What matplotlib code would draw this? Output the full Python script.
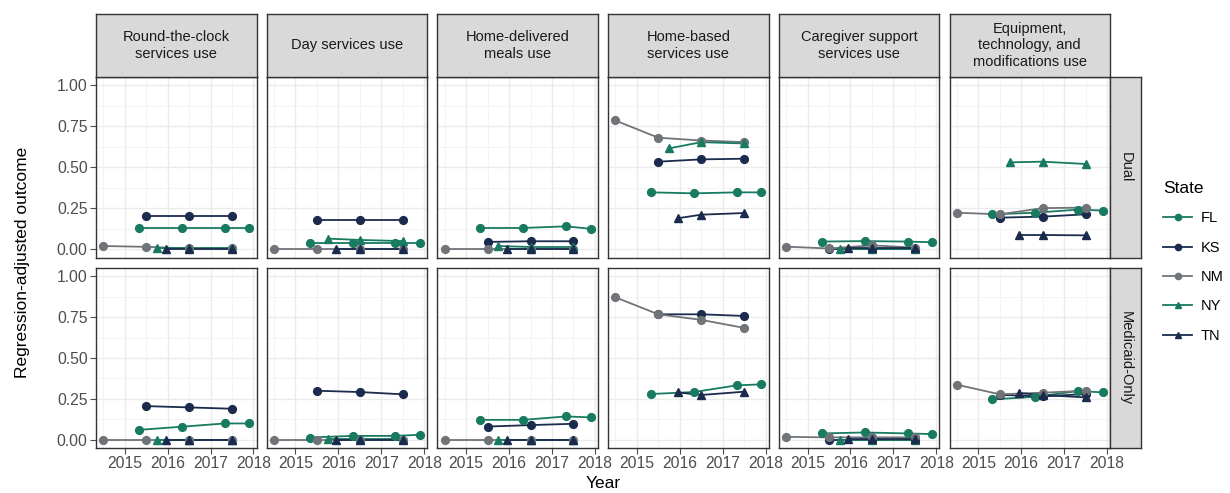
import matplotlib
matplotlib.use("Agg")
import matplotlib.pyplot as plt
import matplotlib.font_manager as fm
from matplotlib.lines import Line2D
from matplotlib.ticker import MultipleLocator

# panel titles (columns) and enrollment groups (rows)
services = [
    "Round-the-clock\nservices use",
    "Day services use",
    "Home-delivered\nmeals use",
    "Home-based\nservices use",
    "Caregiver support\nservices use",
    "Equipment,\ntechnology, and\nmodifications use",
]
groups = ["Dual", "Medicaid-Only"]
states = ["FL", "KS", "NM", "NY", "TN"]

# measurement years for each state
years_FL = [2015.33, 2016.33, 2017.33, 2017.9]
years_KS = [2015.5, 2016.5, 2017.5]
years_NM = [2014.5, 2015.5, 2016.5, 2017.5]
years_NY = [2015.75, 2016.5, 2017.5]
years_TN = [2015.95, 2016.5, 2017.5]

# regression-adjusted outcomes, one list per service (None = not shown)
fl_dual = [[0.13, 0.13, 0.13, 0.13], [0.04, 0.04, 0.04, 0.04],
           [0.13, 0.13, 0.14, 0.125], [0.347, 0.341, 0.347, 0.347],
           [0.047, 0.05, 0.047, 0.043], [0.213, 0.223, 0.242, 0.236]]
ks_dual = [[0.20, 0.20, 0.20], [0.18, 0.18, 0.18], [0.045, 0.049, 0.049],
           [0.534, 0.548, 0.552], [0.0, 0.0, 0.0], [0.193, 0.199, 0.213]]
nm_dual = [[0.02, 0.015, 0.005, 0.005], [0.0, 0.0, 0.0, 0.0],
           [0.0, 0.0, 0.0, 0.0], [0.785, 0.68, 0.663, 0.653],
           [0.016, 0.005, 0.024, 0.01], [0.223, 0.213, 0.251, 0.254]]
ny_dual = [[0.005, 0.005, 0.005], [0.065, 0.057, 0.05], [0.02, 0.014, 0.014],
           [0.615, 0.653, 0.645], [0.0, 0.0, 0.0], [0.53, 0.534, 0.52]]
tn_dual = [[0.0, 0.0, 0.0], [0.0, 0.0, 0.0], [0.0, 0.0, 0.0],
           [0.189, 0.211, 0.221], [0.005, 0.005, 0.005], [0.087, 0.087, 0.085]]

fl_mcd = [[0.061, 0.08, 0.1, 0.1], [0.014, 0.024, 0.024, 0.031],
          [0.122, 0.122, 0.143, 0.137], [0.28, 0.292, 0.333, 0.339],
          [0.039, 0.045, 0.039, 0.035], [0.247, 0.263, 0.298, 0.29]]
ks_mcd = [[0.206, 0.198, 0.19], [0.30, 0.292, 0.278], [0.081, 0.09, 0.098],
          [0.767, 0.767, 0.757], [0.0, 0.0, 0.0], [0.275, 0.265, 0.28]]
nm_mcd = [[0.0, 0.0, 0.0, 0.0], [0.0, 0.0, 0.0, 0.0], [0.0, 0.0, 0.0, 0.0],
          [0.871, 0.767, 0.733, 0.684], [0.018, 0.015, 0.015, 0.015],
          [0.337, 0.278, 0.288, 0.30]]
ny_mcd = [[0.0, 0.0, 0.0], [0.005, 0.005, 0.005], [0.0, 0.0, 0.0],
          None, [0.0, 0.0, 0.0], None]
tn_mcd = [[0.0, 0.0, 0.0], [0.0, 0.0, 0.0], [0.0, 0.0, 0.0],
          [0.29, 0.274, 0.294], [0.005, 0.005, 0.005], [0.286, 0.274, 0.259]]

state_years = {"FL": years_FL, "KS": years_KS, "NM": years_NM,
               "NY": years_NY, "TN": years_TN}
state_values = {
    "Dual": {"FL": fl_dual, "KS": ks_dual, "NM": nm_dual, "NY": ny_dual, "TN": tn_dual},
    "Medicaid-Only": {"FL": fl_mcd, "KS": ks_mcd, "NM": nm_mcd, "NY": ny_mcd, "TN": tn_mcd},
}

green = "#187a60"
navy = "#1b2b4d"
grey = "#707479"
colors = {"FL": green, "KS": navy, "NM": grey, "NY": green, "TN": navy}
markers = {"FL": "o", "KS": "o", "NM": "o", "NY": "^", "TN": "^"}

installed = {f.name for f in fm.fontManager.ttflist}
base_font = "Liberation Sans" if "Liberation Sans" in installed else "DejaVu Sans"
plt.rcParams["font.family"] = [base_font, "DejaVu Sans"]

W, H = 1230, 493
fig = plt.figure(figsize=(W / 100, H / 100), dpi=100)


def px_axes(x0, y0, x1, y1, **kw):
    # axes from pixel box (top-left origin)
    return fig.add_axes([x0 / W, 1 - y1 / H, (x1 - x0) / W, (y1 - y0) / H], **kw)


col_left = 96.0
col_step = 170.7
col_w = 160.5
row_box = [(77.0, 257.5), (268.0, 448.0)]
strip_top = 14.0
tick_color = "#4d4d4d"
border_color = "#333333"

for r, grp in enumerate(groups):
    top, bot = row_box[r]
    for c, svc in enumerate(services):
        x0 = col_left + c * col_step
        ax = px_axes(x0, top, x0 + col_w, bot)
        ax.set_xlim(2014.33, 2018.07)
        ax.set_ylim(-0.05, 1.05)
        ax.xaxis.set_major_locator(MultipleLocator(1))
        ax.xaxis.set_minor_locator(MultipleLocator(0.5))
        ax.yaxis.set_major_locator(MultipleLocator(0.25))
        ax.yaxis.set_minor_locator(MultipleLocator(0.125))
        ax.grid(which="major", color="#ebebeb", lw=1.0, zorder=0)
        ax.grid(which="minor", color="#f3f3f3", lw=0.6, zorder=0)
        ax.set_axisbelow(True)
        for sp in ax.spines.values():
            sp.set_color(border_color)
            sp.set_linewidth(1.0)
        ax.tick_params(which="minor", length=0)
        ax.tick_params(which="major", length=4, width=0.8, color=tick_color,
                       labelcolor=tick_color, labelsize=11.3, pad=2)
        if c == 0:
            ax.set_yticks([0, 0.25, 0.5, 0.75, 1.0])
            ax.set_yticklabels(["0.00", "0.25", "0.50", "0.75", "1.00"])
        else:
            ax.tick_params(axis="y", which="major", left=False, labelleft=False)
        if r == 0:
            ax.tick_params(axis="x", which="major", bottom=False, labelbottom=False)
        else:
            ax.set_xticks([2015, 2016, 2017, 2018])

        for st in states:
            vals = state_values[grp][st][c]
            if vals is None:
                continue
            ax.plot(state_years[st], vals, color=colors[st], lw=1.3,
                    zorder=2, solid_capstyle="butt")
        for st in states:
            vals = state_values[grp][st][c]
            if vals is None:
                continue
            ax.plot(state_years[st], vals, linestyle="none", marker=markers[st],
                    ms=5.6 if markers[st] == "o" else 6.0, color=colors[st],
                    zorder=3)

        # column strip above the top row
        if r == 0:
            sax = px_axes(x0, strip_top, x0 + col_w, top)
            sax.set_xlim(0, 1)
            sax.set_ylim(0, 1)
            sax.set_xticks([])
            sax.set_yticks([])
            sax.set_facecolor("#d9d9d9")
            for sp in sax.spines.values():
                sp.set_color(border_color)
                sp.set_linewidth(1.0)
            sax.text(0.5, 0.5, svc, ha="center", va="center", fontsize=10.5,
                     color="#1a1a1a", linespacing=1.25)

    # row strip on the right
    rax = px_axes(col_left + 5 * col_step + col_w, top, 1141, bot)
    rax.set_xticks([])
    rax.set_yticks([])
    rax.set_facecolor("#d9d9d9")
    for sp in rax.spines.values():
        sp.set_color(border_color)
        sp.set_linewidth(1.0)
    rax.text(0.5, 0.5, grp, rotation=-90, ha="center", va="center",
             fontsize=10.5, color="#1a1a1a")

fig.text(23 / W, 1 - 262 / H, "Regression-adjusted outcome", rotation=90,
         ha="center", va="center", fontsize=12.5, color="black")
fig.text(603 / W, 1 - 483 / H, "Year", ha="center", va="center",
         fontsize=12.5, color="black")

handles = [Line2D([0], [0], color=colors[st], lw=1.3, marker=markers[st],
                  ms=4.5) for st in states]
fig.legend(handles, states, title="State", loc="upper left",
           bbox_to_anchor=(1150 / W, 1 - 168 / H), frameon=False,
           fontsize=10.5, title_fontsize=12.5, handlelength=2.0,
           labelspacing=1.05, handletextpad=0.6, alignment="left")

fig.savefig("out.png", dpi=100)
